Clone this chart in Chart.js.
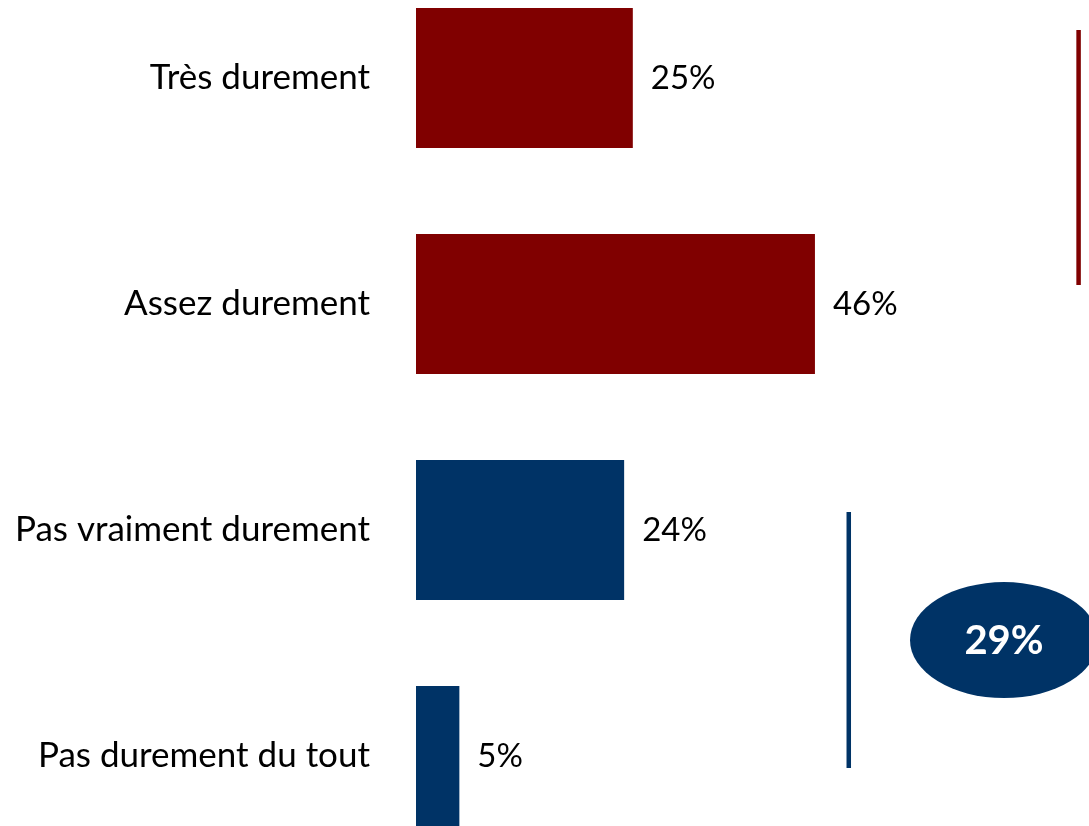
<!DOCTYPE html>
<html lang="fr">
<head>
<meta charset="utf-8">
<script src="https://cdn.jsdelivr.net/npm/chart.js@4/dist/chart.umd.min.js"></script>
<style>
  html, body { margin: 0; padding: 0; background: #fff; overflow: hidden; }
  body { width: 1089px; height: 826px; position: relative; }
  #wrap { position: absolute; left: 0; top: -35px; width: 1089px; height: 904px; }
</style>
</head>
<body>
<div id="wrap"><canvas id="chart"></canvas></div>
<script>
const categories = ['Très durement', 'Assez durement', 'Pas vraiment durement', 'Pas durement du tout'];
const values = [25, 46, 24, 5];
const barColors = ['#800000', '#800000', '#003366', '#003366'];

const FONT = 'Lato, "Open Sans", sans-serif';

// value labels to the right of each bar
const valueLabels = {
    id: 'valueLabels',
    afterDatasetsDraw(chart) {
        const ctx = chart.ctx;
        const meta = chart.getDatasetMeta(0);
        ctx.save();
        ctx.font = '33px ' + FONT;
        ctx.fillStyle = '#000';
        ctx.textBaseline = 'middle';
        ctx.textAlign = 'left';
        meta.data.forEach((bar, i) => {
            ctx.fillText(values[i] + '%', bar.x + 18, bar.y);
        });
        ctx.restore();
    }
};

// bracket lines and the total bubble
const brackets = {
    id: 'brackets',
    afterDraw(chart) {
        const ctx = chart.ctx;
        const x = chart.scales.x;
        const y = chart.scales.y;
        ctx.save();
        ctx.lineWidth = 4.5;

        ctx.strokeStyle = '#800000';
        ctx.beginPath();
        ctx.moveTo(x.getPixelForValue(76.4), y.getPixelForValue(-0.212));
        ctx.lineTo(x.getPixelForValue(76.4), y.getPixelForValue(0.916));
        ctx.stroke();

        ctx.strokeStyle = '#003366';
        ctx.beginPath();
        ctx.moveTo(x.getPixelForValue(49.9), y.getPixelForValue(1.92));
        ctx.lineTo(x.getPixelForValue(49.9), y.getPixelForValue(3.053));
        ctx.stroke();

        // bubble with the total of the two lower answers
        const cx = x.getPixelForValue(67.8);
        const cy = y.getPixelForValue(2.487);
        ctx.fillStyle = '#003366';
        ctx.beginPath();
        ctx.ellipse(cx, cy, 94, 58, 0, 0, Math.PI * 2);
        ctx.fill();
        ctx.fillStyle = '#fff';
        ctx.font = 'bold 40px ' + FONT;
        ctx.textAlign = 'center';
        ctx.textBaseline = 'middle';
        ctx.fillText((values[2] + values[3]) + '%', cx, cy + 1);
        ctx.restore();
    }
};

new Chart(document.getElementById('chart'), {
    type: 'bar',
    data: {
        labels: categories,
        datasets: [{
            data: values,
            backgroundColor: barColors,
            borderWidth: 0,
            categoryPercentage: 1,
            barPercentage: 0.62
        }]
    },
    options: {
        indexAxis: 'y',
        responsive: true,
        maintainAspectRatio: false,
        animation: false,
        layout: { padding: 0 },
        plugins: {
            legend: { display: false },
            tooltip: { enabled: false }
        },
        scales: {
            x: {
                display: false,
                min: 0,
                max: 77.6
            },
            y: {
                border: { display: false },
                grid: { display: false, drawTicks: false },
                ticks: {
                    color: '#000',
                    padding: 46,
                    font: { family: FONT, size: 35 }
                },
                afterFit(scale) {
                    scale.width = 416;
                    scale.paddingTop = 0;
                    scale.paddingBottom = 0;
                }
            }
        }
    },
    plugins: [valueLabels, brackets]
});
</script>
</body>
</html>
